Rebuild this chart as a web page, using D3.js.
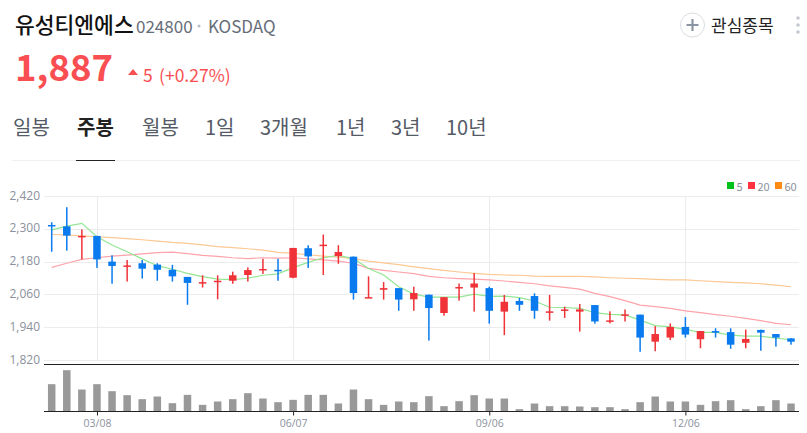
<!DOCTYPE html>
<html>
<head>
<meta charset="utf-8">
<script src="https://cdn.jsdelivr.net/npm/d3@7"></script>
<style>
  html, body { margin: 0; padding: 0; background: #fff; }
  svg { display: block; }
  text { font-family: "Noto Sans CJK KR", "Noto Sans", sans-serif; }
  .axis text { font-family: "Open Sans", "Noto Sans", sans-serif; }
</style>
</head>
<body>
<div id="chart"></div>
<script>
// weekly candles
const open = [2314,2309,2270,2274,2180,2163,2174,2169,2150,2124,2102,2108,2110,2131,2149,2150,2121,2229,2238,2200,2198,2047,2077,2083,2042,2059,1992,2083,2085,2083,1997,2036,2054,1993,2000,1997,2021,1960,1983,1986,1887,1902,1941,1896,1926,1922,1883,1930,1915,1899];
const close = [2309,2275,2274,2188,2164,2166,2154,2150,2126,2102,2105,2110,2130,2149,2153,2147,2230,2199,2242,2215,2065,2050,2083,2041,2065,2010,2050,2087,2100,2000,2033,2022,2000,1998,2005,2005,1961,1965,1987,1902,1915,1941,1913,1926,1920,1876,1897,1920,1902,1887];
const high = [2324,2379,2298,2274,2203,2186,2186,2174,2168,2124,2130,2130,2143,2159,2190,2190,2230,2240,2279,2240,2199,2126,2105,2083,2088,2059,2050,2100,2138,2088,2058,2047,2064,2058,2015,2025,2021,1998,2005,1986,1944,1954,1977,1926,1936,1936,1931,1931,1915,1900];
const low = [2216,2220,2188,2157,2099,2107,2118,2110,2107,2022,2085,2042,2099,2107,2135,2110,2119,2157,2131,2172,2041,2047,2041,2000,2000,1891,1982,2037,1997,1953,1911,2000,1971,1964,1974,1924,1953,1954,1961,1850,1852,1893,1902,1863,1902,1861,1863,1854,1869,1876];
const ma5 = [2296,2310,2320,2271,2241,2216,2190,2165,2152,2137,2125,2116,2114,2119,2130,2135,2158,2177,2194,2203,2191,2155,2131,2088,2061,2050,2050,2050,2061,2053,2054,2048,2036,2013,2012,2009,1993,1987,1985,1966,1946,1941,1932,1921,1921,1911,1907,1907,1900,1894];
const ma20 = [2159,2174,2188,2194,2200,2204,2208,2213,2215,2209,2203,2199,2194,2191,2194,2193,2194,2190,2186,2182,2174,2155,2148,2142,2136,2126,2121,2118,2116,2113,2109,2104,2099,2091,2086,2079,2064,2052,2037,2021,2015,2009,2000,1993,1986,1980,1972,1964,1954,1949];
const ma60 = [2280,2277,2274,2271,2268,2264,2260,2255,2250,2247,2241,2235,2231,2227,2222,2214,2210,2205,2200,2196,2191,2182,2175,2169,2161,2154,2148,2142,2137,2133,2131,2130,2127,2126,2126,2126,2124,2121,2119,2118,2115,2113,2113,2110,2107,2104,2102,2099,2094,2088];
const volume = [82,124,66,82,61,49,37,45,25,50,20,30,37,55,39,28,35,50,50,24,66,37,20,30,28,46,16,31,49,39,39,7,24,16,16,15,13,13,7,28,45,30,30,20,31,34,7,16,34,24];

const priceTicks = [2420,2300,2180,2060,1940,1820];
const dateTickIndex = [3,16,29,42];
const dateTickLabels = ['03/08','06/07','09/06','12/06'];
const tabLabels = ['일봉','주봉','월봉','1일','3개월','1년','3년','10년'];
const tabX = [13,77,142,205,260,336,391,446];
const legendLabels = ['5','20','60'];
const legendColors = ['#00c21a','#ff3340','#ff8a14'];

const width = 807, height = 433;
const left = 44, right = 799;
const upColor = '#ef3338', downColor = '#0a7bef';

const svg = d3.select('#chart').append('svg').attr('width', width).attr('height', height);

const x = d3.scaleLinear().domain([0, open.length - 1]).range([51.7, 791]);
const y = d3.scaleLinear().domain([1820, 2420]).range([360, 196]);
const yVol = d3.scaleLinear().domain([0, d3.max(volume)]).range([411.5, 370.2]);

// header
svg.append('text').attr('x', 15).attr('y', 33).attr('font-size', 21.5).attr('font-weight', 500).attr('fill', '#111').text('유성티엔에스');
svg.append('text').attr('x', 136).attr('y', 33).attr('font-size', 17).attr('fill', '#666d78').text('024800');
svg.append('circle').attr('cx', 199).attr('cy', 26).attr('r', 1.5).attr('fill', '#b8bcc4');
svg.append('text').attr('x', 208).attr('y', 33).attr('font-size', 17).attr('fill', '#666d78').text('KOSDAQ');
svg.append('text').attr('x', 15).attr('y', 81).attr('font-size', 36.5).attr('font-weight', 700).attr('fill', '#f94f52').text('1,887');
svg.append('path').attr('d', 'M128,75 L133,69 L138,75 Z').attr('fill', '#f94f52');
svg.append('text').attr('x', 143).attr('y', 81.5).attr('font-size', 17.5).attr('fill', '#f94f52').text('5');
svg.append('text').attr('x', 159).attr('y', 81.5).attr('font-size', 17.5).attr('fill', '#f94f52').text('(+0.27%)');

// watch button
svg.append('circle').attr('cx', 692.5).attr('cy', 25).attr('r', 12).attr('fill', '#fff').attr('stroke', '#d9dce2').attr('stroke-width', 1);
svg.append('path').attr('d', 'M686.5,25 H698.5 M692.5,19 V31').attr('stroke', '#8b94a3').attr('stroke-width', 2.2);
svg.append('text').attr('x', 711).attr('y', 32).attr('font-size', 17).attr('fill', '#222').text('관심종목');
svg.selectAll('.dot').data([18, 25, 32]).enter().append('circle')
  .attr('cx', 798).attr('cy', d => d).attr('r', 1.8).attr('fill', '#c4c8d0');

// tabs
svg.selectAll('.tab').data(tabLabels).enter().append('text')
  .attr('x', (d, i) => tabX[i]).attr('y', 135).attr('font-size', 20)
  .attr('font-weight', (d, i) => i == 1 ? 700 : 400)
  .attr('fill', (d, i) => i == 1 ? '#222' : '#555b66')
  .text(d => d);
svg.append('line').attr('x1', 12).attr('x2', 800).attr('y1', 160.5).attr('y2', 160.5).attr('stroke', '#f0f0f2');
svg.append('line').attr('x1', 76).attr('x2', 115).attr('y1', 160.5).attr('y2', 160.5).attr('stroke', '#222');

// legend
const legendX = [727, 748, 775];
legendLabels.forEach((d, i) => {
  svg.append('rect').attr('x', legendX[i]).attr('y', 182).attr('width', 7).attr('height', 7).attr('fill', legendColors[i]);
  svg.append('text').attr('x', legendX[i] + 9.5).attr('y', 190.5).attr('font-size', 11).attr('fill', '#8b919c').text(d);
});

// grid
svg.append('g').selectAll('line').data(priceTicks).enter().append('line')
  .attr('x1', left).attr('x2', right)
  .attr('y1', d => Math.round(y(d)) + 0.5).attr('y2', d => Math.round(y(d)) + 0.5)
  .attr('stroke', '#ececee');
svg.append('g').selectAll('line').data(dateTickIndex).enter().append('line')
  .attr('x1', d => Math.round(x(d)) + 0.5).attr('x2', d => Math.round(x(d)) + 0.5)
  .attr('y1', 196).attr('y2', 360)
  .attr('stroke', '#ececee');

// price axis
const yAxis = svg.append('g').attr('class', 'axis').attr('transform', `translate(${left},0)`)
  .call(d3.axisLeft(y).tickValues(priceTicks).tickSize(0).tickPadding(4).tickFormat(d3.format(',')));
yAxis.select('.domain').remove();
yAxis.selectAll('text').attr('font-size', 12).attr('fill', '#8b919c').attr('dy', '0.25em')
  .attr('font-family', '"Open Sans", sans-serif');

// moving averages
const line = d3.line().x((d, i) => x(i)).y(d => y(d));
[[ma60, '#fcc893'], [ma20, '#ffa3aa'], [ma5, '#94e693']].forEach(m => {
  svg.append('path').datum(m[0]).attr('d', line)
    .attr('fill', 'none').attr('stroke', m[1]).attr('stroke-width', 1.2);
});

// candles
const candles = svg.append('g').selectAll('g').data(open).enter().append('g')
  .attr('fill', (d, i) => close[i] >= open[i] ? upColor : downColor)
  .attr('stroke', 'none');
candles.append('rect')
  .attr('x', (d, i) => x(i) - 0.75).attr('width', 1.5)
  .attr('y', (d, i) => y(high[i]))
  .attr('height', (d, i) => y(low[i]) - y(high[i]));
candles.append('rect')
  .attr('x', (d, i) => x(i) - 3.75).attr('width', 7.5)
  .attr('y', (d, i) => y(Math.max(open[i], close[i])))
  .attr('height', (d, i) => Math.max(1.5, Math.abs(y(open[i]) - y(close[i]))));

// separator and volume
svg.append('line').attr('x1', left).attr('x2', right).attr('y1', 364.5).attr('y2', 364.5).attr('stroke', '#222').attr('stroke-width', 1.2);
svg.append('g').selectAll('rect').data(volume).enter().append('rect')
  .attr('x', (d, i) => x(i) - 3.75).attr('width', 7.5)
  .attr('y', d => yVol(d)).attr('height', d => yVol(0) - yVol(d))
  .attr('fill', '#999');

// date axis
const xAxis = svg.append('g').attr('class', 'axis').attr('transform', 'translate(0,411.5)')
  .call(d3.axisBottom(x).tickValues(dateTickIndex).tickSize(4).tickPadding(4).tickFormat((d, i) => dateTickLabels[i]));
xAxis.select('.domain').remove();
xAxis.selectAll('line').attr('stroke', '#222');
xAxis.selectAll('text').attr('font-size', 10.5).attr('fill', '#8b919c')
  .attr('font-family', '"Open Sans", sans-serif');
svg.append('line').attr('x1', left).attr('x2', right).attr('y1', 411.5).attr('y2', 411.5).attr('stroke', '#222');
</script>
</body>
</html>
